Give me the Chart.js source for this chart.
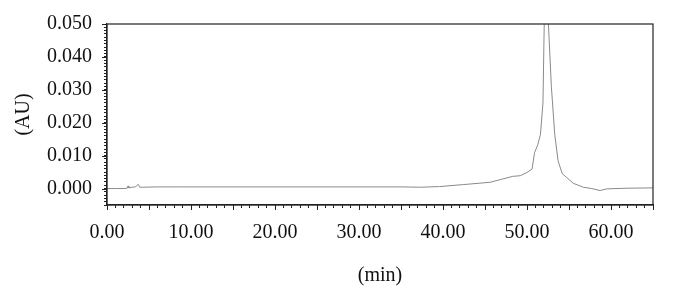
<!DOCTYPE html>
<html>
<head>
<meta charset="utf-8">
<script src="https://cdn.jsdelivr.net/npm/chart.js@4/dist/chart.umd.min.js"></script>
<style>
  html, body { margin: 0; padding: 0; background: #fff; }
  #wrap { width: 679px; height: 288px; position: relative; }
</style>
</head>
<body>
<div id="wrap"><canvas id="c" width="679" height="288"></canvas></div>
<script>
// Retention time (min)
const times = [0, 1, 2, 2.4, 2.5, 2.6, 3.0, 3.4, 3.7, 3.9, 4.2, 6, 8.7, 15, 20, 25, 30, 35, 37.3,
  39.6, 42.4, 45.6, 47.1, 48.3, 49.2, 50.0, 50.6, 50.9, 51.3, 51.6, 51.9, 52.05, 52.3, 52.55,
  52.9, 53.3, 53.7, 54.2, 54.7, 55.5, 56.7, 57.7, 58.7, 59.5, 61.9, 65];
// Absorbance (AU)
const absorbance = [0.0000, 0.0000, 0.0000, 0.0001, 0.0008, 0.0002, 0.0004, 0.0005, 0.0013, 0.0004, 0.0004, 0.0005, 0.0005, 0.0005, 0.0005, 0.0005, 0.0005, 0.0005, 0.0004,
  0.0006, 0.0012, 0.0019, 0.0029, 0.0037, 0.0039, 0.0049, 0.0059, 0.0109, 0.0134, 0.0165, 0.0260, 0.0500, 0.0900, 0.0500,
  0.0310, 0.0165, 0.0084, 0.0045, 0.0034, 0.0016, 0.0004, 0.0000, -0.0006, -0.0001, 0.0001, 0.0002];
// Axis tick labels
const xTickLabels = ["0.00", "10.00", "20.00", "30.00", "40.00", "50.00", "60.00"];
const yTickLabels = ["0.000", "0.010", "0.020", "0.030", "0.040", "0.050"];

const FONT = "'Liberation Serif', 'DejaVu Serif', serif";

const boxPlugin = {
  id: 'boxPlugin',
  afterDraw(chart) {
    const ctx = chart.ctx, a = chart.chartArea;
    const xs = chart.scales.x, ys = chart.scales.y;
    ctx.save();
    ctx.strokeStyle = '#222';
    ctx.lineWidth = 1.2;
    ctx.strokeRect(a.left, a.top, a.right - a.left, a.bottom - a.top);
    // longer major ticks
    ctx.lineWidth = 1;
    ctx.beginPath();
    for (let v = 0; v <= 65; v += 5) {
      const px = Math.round(xs.getPixelForValue(v)) + 0.5;
      ctx.moveTo(px, a.bottom);
      ctx.lineTo(px, a.bottom + 5);
    }
    for (let i = 0; i < yTickLabels.length; i++) {
      const py = Math.round(ys.getPixelForValue(parseFloat(yTickLabels[i]))) + 0.5;
      ctx.moveTo(a.left, py);
      ctx.lineTo(a.left - 5, py);
    }
    ctx.stroke();
    ctx.restore();
  }
};

new Chart(document.getElementById('c'), {
  type: 'line',
  data: {
    datasets: [{
      data: times.map((t, i) => ({ x: t, y: absorbance[i] })),
      borderColor: '#8a8a8a',
      borderWidth: 1,
      pointRadius: 0,
      tension: 0,
      fill: false
    }]
  },
  options: {
    responsive: false,
    animation: false,
    devicePixelRatio: 1,
    layout: { padding: { left: 0, right: 26, top: 21, bottom: 0 } },
    plugins: { legend: { display: false }, tooltip: { enabled: false } },
    scales: {
      x: {
        type: 'linear',
        min: 0, max: 65,
        afterFit(s) { s.height = 83; },
        border: { display: true, color: '#222', width: 1.2 },
        grid: { display: true, drawOnChartArea: false, drawTicks: true, tickLength: 3, color: '#222' },
        ticks: {
          stepSize: 1, autoSkip: false, maxRotation: 0, padding: 13,
          color: '#111', font: { family: FONT, size: 20 },
          callback(v) {
            const r = Math.round(v);
            if (r % 10 !== 0) return '';
            const lbl = (r).toFixed(2);
            return xTickLabels.includes(lbl) ? lbl : '';
          }
        },
        title: { display: true, text: '(min)', color: '#111', font: { family: FONT, size: 20 }, padding: { top: 4, bottom: 0 } }
      },
      y: {
        min: -0.005, max: 0.05,
        afterFit(s) { s.width = 107; },
        border: { display: true, color: '#222', width: 1.2 },
        grid: { display: true, drawOnChartArea: false, drawTicks: true, tickLength: 3, color: '#222' },
        ticks: {
          stepSize: 0.001, autoSkip: false, padding: 12,
          color: '#111', font: { family: FONT, size: 20 },
          callback(v) {
            const m = Math.round(v * 1000);
            if (m % 10 !== 0 || m < 0) return '';
            const lbl = (m / 1000).toFixed(3);
            return yTickLabels.includes(lbl) ? lbl : '';
          }
        },
        title: { display: true, text: '(AU)', color: '#111', font: { family: FONT, size: 20 }, padding: { top: 12, bottom: 4 } }
      }
    }
  },
  plugins: [boxPlugin]
});
</script>
</body>
</html>
